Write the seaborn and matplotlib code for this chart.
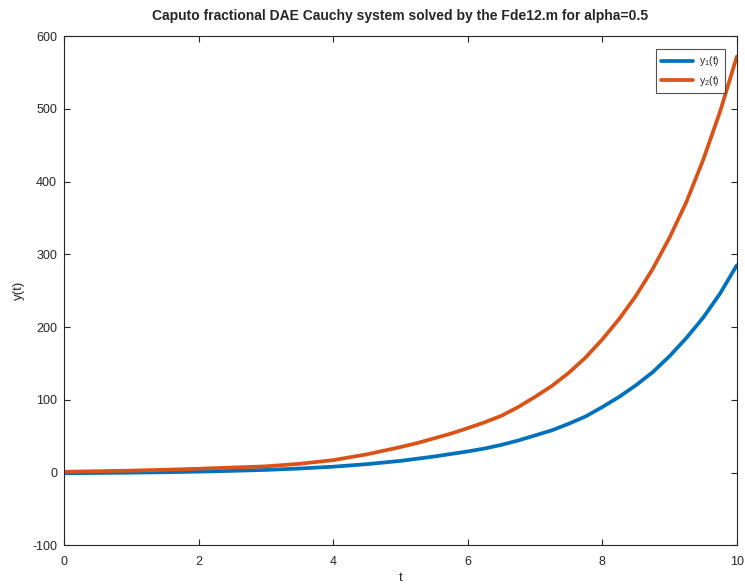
"""
Caputo fractional DAE Cauchy system (Fde12.m, alpha=0.5): solution curves.
"""

import matplotlib
matplotlib.use("Agg")
import matplotlib.pyplot as plt
import pandas as pd
import seaborn as sns

# values
t_values = [0.0, 0.5, 1.0, 1.5, 2.0, 2.5, 3.0, 3.5, 4.0, 4.5,
            5.0, 5.25, 5.5, 5.75, 6.0, 6.25, 6.5, 6.75, 7.0, 7.25,
            7.5, 7.75, 8.0, 8.25, 8.5, 8.75, 9.0, 9.25, 9.5, 9.75, 10.0]
y1_values = [-1.0, -0.6, -0.2, 0.4, 1.2, 2.3, 3.6, 5.5, 8.0, 11.5,
             16.0, 19.0, 22.0, 25.5, 29.0, 33.0, 38.0, 44.0, 51.0, 58.0,
             67.0, 77.0, 90.0, 104.0, 120.0, 138.0, 160.0, 185.0, 213.0, 246.0, 285.0]
y2_values = [1.0, 1.8, 2.6, 3.8, 5.2, 6.8, 8.5, 12.0, 17.0, 25.0,
             35.0, 40.5, 47.0, 53.5, 61.0, 69.0, 78.0, 90.0, 104.0, 119.0,
             137.0, 158.0, 183.0, 211.0, 243.0, 280.0, 323.0, 372.0, 430.0, 496.0, 572.0]
series_names = ["y$_1$(t)", "y$_2$(t)"]
series_colors = ["#0072BD", "#D95319"]

x_ticks = [0, 2, 4, 6, 8, 10]
y_ticks = [-100, 0, 100, 200, 300, 400, 500, 600]

df = pd.DataFrame({
    "t": t_values * 2,
    "y": y1_values + y2_values,
    "series": [series_names[0]] * len(t_values) + [series_names[1]] * len(t_values),
})

sns.set_style("ticks")
plt.rcParams["font.family"] = ["Liberation Sans", "DejaVu Sans"]
plt.rcParams["mathtext.fontset"] = "custom"
plt.rcParams["mathtext.rm"] = "Liberation Sans"
plt.rcParams["axes.unicode_minus"] = False

fig = plt.figure(figsize=(7.45, 5.85), dpi=100)
ax = fig.add_axes([0.086, 0.068, 0.903, 0.870])

sns.lineplot(
    data=df, x="t", y="y", hue="series", palette=series_colors,
    linewidth=2.7, ax=ax,
)
for line in ax.get_lines():
    line.set_solid_joinstyle("round")

ax.set_xlim(0, 10)
ax.set_ylim(-100, 600)
ax.set_xticks(x_ticks)
ax.set_yticks(y_ticks)
ax.tick_params(direction="in", top=True, right=True, labelsize=9,
               colors="#262626", length=4, width=0.8)
ax.tick_params(axis="x", pad=7.5)
ax.tick_params(axis="y", pad=5)
for spine in ax.spines.values():
    spine.set_visible(True)
    spine.set_color("#262626")
    spine.set_linewidth(0.8)

ax.set_xlabel("t", fontsize=9.5, color="#262626", labelpad=3)
ax.set_ylabel("y(t)", fontsize=9.5, color="#262626", labelpad=5)
ax.set_title("Caputo fractional DAE Cauchy system solved by the Fde12.m for alpha=0.5",
             fontsize=10, fontweight="bold", pad=12)

leg = ax.legend(loc="upper right", fontsize=7.5, frameon=True, fancybox=False,
                handlelength=3.0, borderpad=0.5, labelspacing=0.5,
                handletextpad=0.6, bbox_to_anchor=(0.99, 0.985))
leg.get_frame().set_edgecolor("#262626")
leg.get_frame().set_linewidth(0.8)
for line in leg.get_lines():
    line.set_linewidth(2.7)

fig.savefig("out.png", dpi=100)
